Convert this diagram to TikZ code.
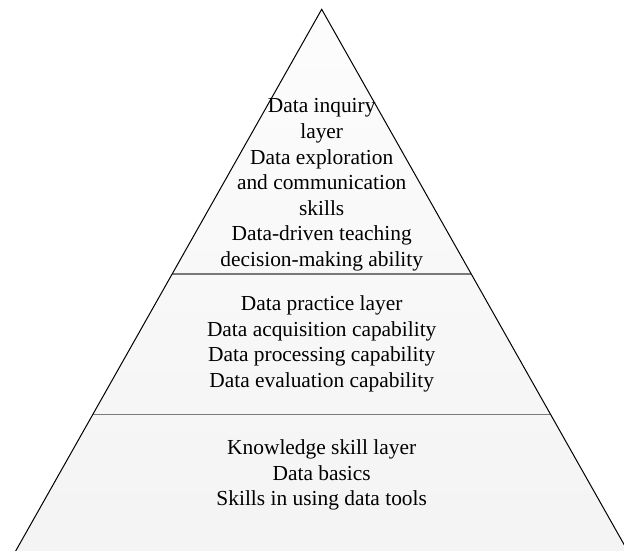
\documentclass[tikz,border=0pt]{standalone}
\usepackage{fontspec}
\setmainfont{Liberation Serif}
\usetikzlibrary{calc}
\tikzset{x=1pt,y=1pt,
         layer text/.style={align=center,font=\fontsize{21.4}{25.6}\selectfont},
         divider/.style={draw=gray!95!black,line width=1.8pt},
         outline/.style={draw=black,line width=1pt}}

\begin{document}
\begin{tikzpicture}
    \clip (0,0) rectangle (624,550);
    \coordinate (apex) at (321.7,540.7);
    \coordinate (left) at (15.1,-2);
    \coordinate (right) at (628.3,-2);
    \shade[top color=gray!2,bottom color=gray!9] (apex) -- (left) -- (right) -- cycle;
    % layer borders
    \coordinate (l1) at ($(apex)!0.4877!(left)$);
    \coordinate (r1) at ($(apex)!0.4877!(right)$);
    \coordinate (l2) at ($(apex)!0.7466!(left)$);
    \coordinate (r2) at ($(apex)!0.7466!(right)$);
    \draw[divider] (l1) -- (r1);
    \draw[divider] (l2) -- (r2);
    \draw[outline] (apex) -- (left) -- (right) -- cycle;
    \node[layer text] (inquiry) at (321.7,365)
        {Data inquiry\\layer\\Data exploration\\and communication\\skills\\Data-driven teaching\\decision-making ability};
    \node[layer text] (practice) at (321.7,206.3)
        {Data practice layer\\Data acquisition capability\\Data processing capability\\Data evaluation capability};
    \node[layer text] (knowledge) at (321.7,75)
        {Knowledge skill layer\\Data basics\\Skills in using data tools};
\end{tikzpicture}
\end{document}
